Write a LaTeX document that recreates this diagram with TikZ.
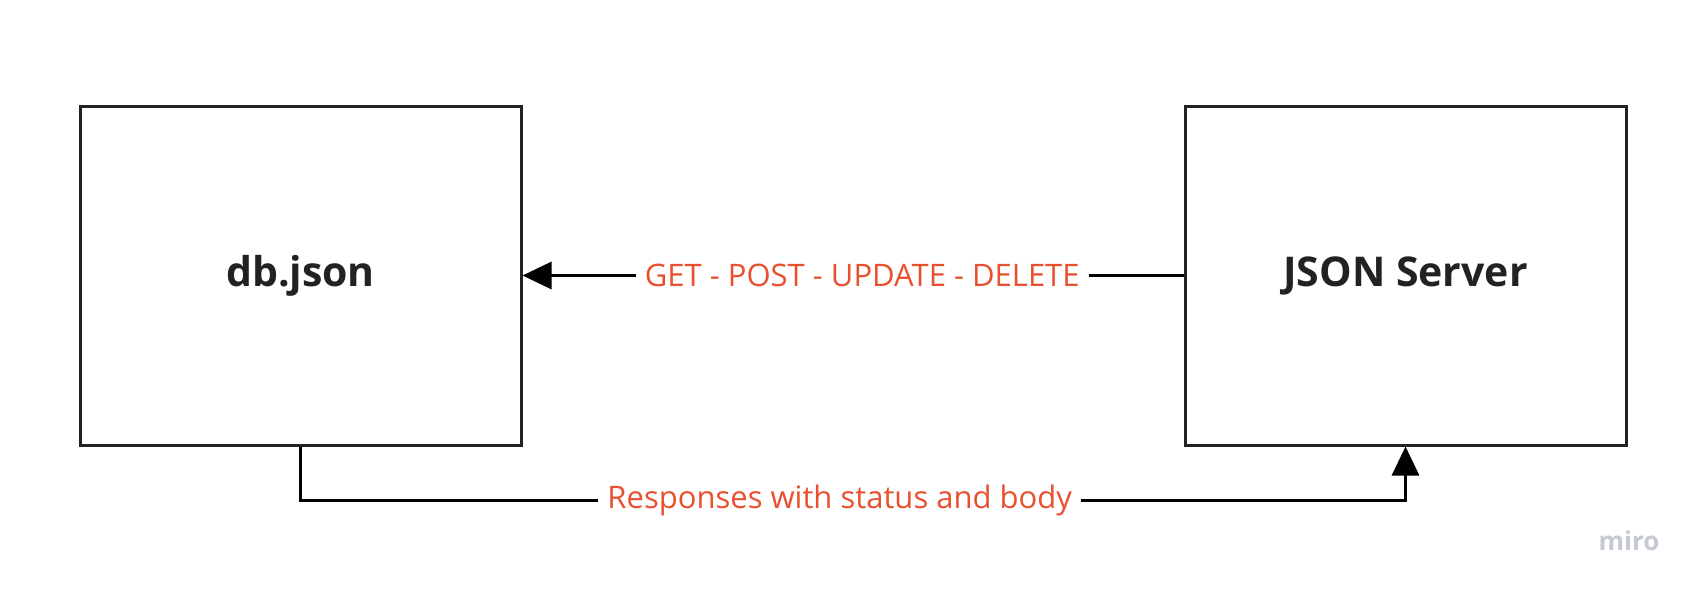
\documentclass[tikz,border=0pt]{standalone}
\usepackage{fontspec}
\setmainfont{Open Sans}
\usetikzlibrary{arrows.meta}
\definecolor{boxline}{HTML}{222222}
\definecolor{labred}{HTML}{E8502F}
\definecolor{mirogray}{HTML}{C5C9D1}
\tikzset{
  box/.style={draw=boxline, line width=3pt, minimum width=441pt, minimum height=339pt,
    font=\fontsize{41}{47}\selectfont\bfseries, text=boxline, inner sep=0pt},
  conn/.style={draw=black, line width=3pt, -{Triangle[length=29pt,width=27pt]}},
  lab/.style={fill=white, text=labred, font=\fontsize{31}{36}\selectfont, inner xsep=9pt, inner ysep=2pt}
}
\begin{document}
\begin{tikzpicture}[x=1pt,y=-1pt]
\useasboundingbox[fill=white] (0,0) rectangle (1696,589);
\node[box] (db) at (300.5,275.5) {db.json};
\node[box] (srv) at (1405.5,275.5) {JSON Server};
\draw[conn] (srv.west) -- node[lab, pos=0.486] (l1) {GET - POST - UPDATE - DELETE} (db.east);
\draw[conn] (db.south) -- ([yshift=-54pt]db.south) -| node[lab, pos=0.244] (l2) {Responses with status and body} (srv.south);
\node[text=mirogray, font=\fontsize{26}{30}\selectfont\bfseries] (miro) at (1629,541) {miro};
\end{tikzpicture}
\end{document}
